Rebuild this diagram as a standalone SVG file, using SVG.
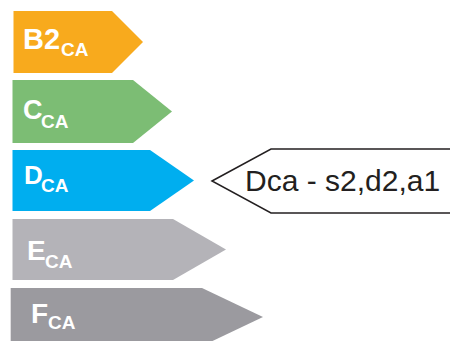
<svg xmlns="http://www.w3.org/2000/svg" width="450" height="341" viewBox="0 0 450 341">
<style>
.lbl{font-family:"Liberation Sans",Arial,sans-serif;font-weight:bold;fill:#ffffff}
.sub{font-size:19px}
.call{font-family:"Liberation Sans",Arial,sans-serif;font-size:30px;fill:#231f20}
</style>
<rect width="450" height="341" fill="#ffffff"/>
<g id="node-b2">
<polygon points="13.5,11 112,11 143,42 112,73 13.5,73" fill="#F8AA1D"/>
<text class="lbl" font-size="29"><tspan x="23" y="49">B2</tspan><tspan class="sub" x="61" y="56">CA</tspan></text>
</g>
<g id="node-c">
<polygon points="12.5,80 133,80 172,111.5 133,143 12.5,143" fill="#7CBD74"/>
<text class="lbl" font-size="27"><tspan x="23" y="119">C</tspan><tspan class="sub" x="41" y="128">CA</tspan></text>
</g>
<g id="node-d">
<polygon points="12.5,150 150,150 194,180.5 150,211 12.5,211" fill="#00AEEF"/>
<text class="lbl" font-size="26"><tspan x="24" y="184">D</tspan><tspan class="sub" x="41" y="192">CA</tspan></text>
</g>
<g id="node-e">
<polygon points="12.5,219 173,219 226,249.5 173,280 12.5,280" fill="#B4B3B8"/>
<text class="lbl" font-size="28"><tspan x="27" y="260">E</tspan><tspan class="sub" x="45" y="268">CA</tspan></text>
</g>
<g id="node-f">
<polygon points="10.7,288 202,288 263,317 202,346 10.7,346" fill="#9B9A9F"/>
<text class="lbl" font-size="28"><tspan x="31" y="323">F</tspan><tspan class="sub" x="48" y="329">CA</tspan></text>
</g>
<g id="node-callout">
<polygon points="212,181 271,149 460,149 460,213 271,213" fill="#ffffff" stroke="#231f20" stroke-width="1.5"/>
<text class="call" x="245" y="191">Dca - s2,d2,a1</text>
</g>
<g id="connectors"></g>
</svg>
